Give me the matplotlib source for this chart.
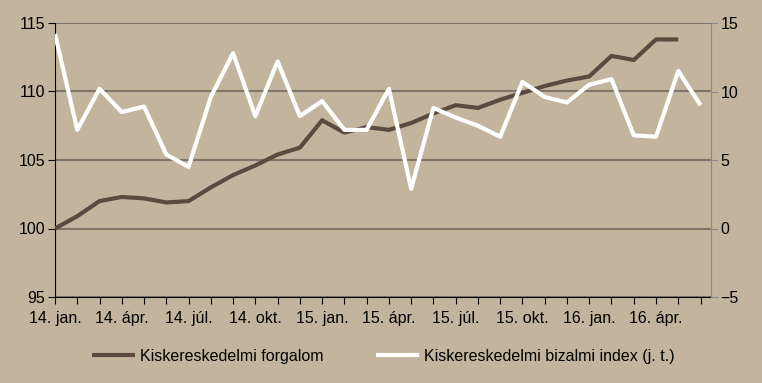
import matplotlib.pyplot as plt
import numpy as np

plt.rcParams['font.family'] = ['Liberation Sans', 'DejaVu Sans']
plt.rcParams['font.size'] = 11.5

# havi adatok, 2014. jan. - 2016. jún.
forgalom = [100.0, 100.9, 102.0, 102.3, 102.2, 101.9, 102.0, 103.0, 103.9, 104.6,
            105.4, 105.9, 107.9, 107.0, 107.4, 107.2, 107.7, 108.4, 109.0, 108.8,
            109.4, 109.9, 110.4, 110.8, 111.1, 112.6, 112.3, 113.8, 113.8]
bizalmi = [14.2, 7.2, 10.2, 8.5, 8.9, 5.4, 4.5, 9.6, 12.8, 8.2,
           12.2, 8.2, 9.3, 7.2, 7.2, 10.2, 2.9, 8.8, 8.1, 7.5,
           6.7, 10.7, 9.6, 9.2, 10.5, 10.9, 6.8, 6.7, 11.5, 9.0]
honap_cimkek = ['14. jan.', '14. ápr.', '14. júl.', '14. okt.', '15. jan.',
                '15. ápr.', '15. júl.', '15. okt.', '16. jan.', '16. ápr.']

bg = '#C3B59D'
sotet = '#5B4A40'
racs = '#7F7568'

fig = plt.figure(figsize=(7.62, 3.83), dpi=100, facecolor=bg)
ax = fig.add_axes([55/762, 1 - 297/383, 656/762, 274/383])
ax.set_facecolor(bg)
ax2 = ax.twinx()

x1 = np.arange(len(forgalom))
x2 = np.arange(len(bizalmi))

ax.plot(x1, forgalom, color=sotet, lw=3, solid_capstyle='butt', zorder=3,
        label='Kiskereskedelmi forgalom')
ax2.plot(x2, bizalmi, color='white', lw=3, solid_capstyle='butt', zorder=3,
         label='Kiskereskedelmi bizalmi index (j. t.)')

ax.set_ylim(95, 115)
ax.set_yticks([95, 100, 105, 110, 115])
ax2.set_ylim(-5, 15)
ax2.set_yticks([-5, 0, 5, 10, 15])
ax.set_xlim(0, 29.47)

ax.set_xticks(np.arange(0, 30))
ax.set_xticklabels([honap_cimkek[i // 3] if i % 3 == 0 else '' for i in range(30)])

ax.grid(axis='y', color=racs, lw=1.5)
ax.set_axisbelow(True)

for s in ['top']:
    ax.spines[s].set_visible(False)
    ax2.spines[s].set_visible(False)
ax.spines['right'].set_visible(False)
ax2.spines['left'].set_visible(False)
ax2.spines['bottom'].set_visible(False)
ax.spines['left'].set_color('black')
ax.spines['bottom'].set_color('black')
ax2.spines['right'].set_color('#8C8C8C')

ax.tick_params(axis='x', direction='out', length=5, color='black', pad=5)
ax.tick_params(axis='y', direction='out', length=5, color='black', pad=2)
ax2.tick_params(axis='y', direction='out', length=5, color='#8C8C8C', pad=2)

h1, l1 = ax.get_legend_handles_labels()
h2, l2 = ax2.get_legend_handles_labels()
fig.legend(h1 + h2, l1 + l2, loc='center', bbox_to_anchor=(0.503, 1 - 356/383),
           ncol=2, frameon=False, handlelength=2.7, handletextpad=0.3,
           columnspacing=3.3)

fig.savefig('out.png', dpi=100, facecolor=bg)
